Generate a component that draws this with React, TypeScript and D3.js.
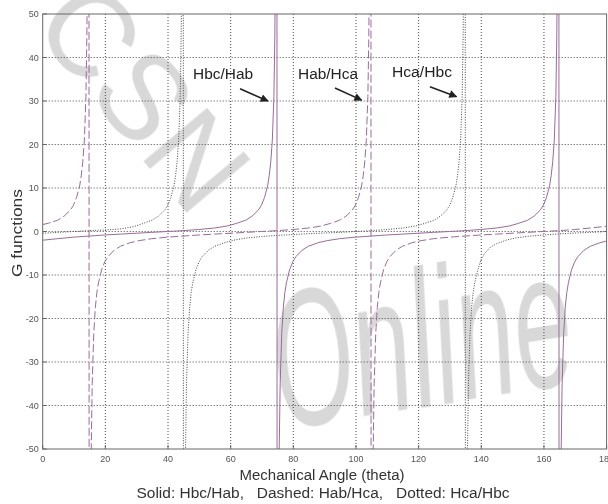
import React from "react";
import * as d3 from "d3";

// x ticks / y ticks (MATLAB style axes)
const xTicks = [0, 20, 40, 60, 80, 100, 120, 140, 160, 180];
const yTicks = [50, 40, 30, 20, 10, 0, -10, -20, -30, -40, -50];

// Solid: Hbc/Hab  [angle, G]
const hbcHab: [number, number][] = [
  [0, -2.0], [4.8, -1.65], [9.8, -1.3], [14.8, -1.05], [19.8, -0.8], [24.8, -0.6],
  [29.8, -0.4], [34.8, -0.2], [39.8, 0.0], [44.8, 0.2], [49.8, 0.45], [54.8, 0.8],
  [58.8, 1.25], [61.8, 1.85], [64.8, 2.6], [66.8, 3.5], [68.8, 4.9], [69.8, 6.0],
  [70.8, 7.8], [71.8, 10.5], [72.3, 12.8], [72.8, 16], [73.3, 21], [73.8, 31],
  [74.1, 45], [74.3, 64], [74.5, 108], [74.7, 330],
  [74.9, -350], [75.1, -115], [75.3, -70], [75.5, -50], [75.8, -35], [76.3, -23.5],
  [76.8, -17.5], [77.3, -14], [77.8, -11.8], [78.8, -8.8], [79.8, -7.0], [80.8, -5.8],
  [82.8, -4.3], [84.8, -3.4], [87.8, -2.6], [90.8, -2.1], [94.8, -1.65], [99.8, -1.3],
  [104.8, -1.05], [109.8, -0.8], [114.8, -0.6], [119.8, -0.4], [124.8, -0.2],
  [129.8, 0.0], [134.8, 0.2], [139.8, 0.45], [144.8, 0.8], [148.8, 1.25],
  [151.8, 1.85], [154.8, 2.6], [156.8, 3.5], [158.8, 4.9], [159.8, 6.0], [160.8, 7.8],
  [161.8, 10.5], [162.3, 12.8], [162.8, 16], [163.3, 21], [163.8, 31], [164.1, 45],
  [164.3, 64], [164.5, 108], [164.7, 330],
  [164.9, -350], [165.1, -115], [165.3, -70], [165.5, -50], [165.8, -35],
  [166.3, -23.5], [166.8, -17.5], [167.3, -14], [167.8, -11.8], [168.8, -8.8],
  [169.8, -7.0], [170.8, -5.8], [172.8, -4.3], [174.8, -3.4], [177.8, -2.6], [180, -2.2],
];

// Dashed: Hab/Hca
const habHca: [number, number][] = [
  [0, 1.6], [1.8, 1.9], [4.8, 2.6], [6.8, 3.5], [8.8, 4.9], [9.8, 6.0], [10.8, 7.8],
  [11.8, 10.5], [12.3, 12.8], [12.8, 16], [13.3, 21], [13.8, 31], [14.1, 45],
  [14.3, 64], [14.5, 108], [14.7, 330],
  [14.9, -350], [15.1, -115], [15.3, -70], [15.5, -50], [15.8, -35], [16.3, -23.5],
  [16.8, -17.5], [17.3, -14], [17.8, -11.8], [18.8, -8.8], [19.8, -7.0], [20.8, -5.8],
  [22.8, -4.3], [24.8, -3.4], [27.8, -2.6], [30.8, -2.1], [34.8, -1.65], [39.8, -1.3],
  [44.8, -1.05], [49.8, -0.8], [54.8, -0.6], [59.8, -0.4], [64.8, -0.2], [69.8, 0.0],
  [74.8, 0.2], [79.8, 0.45], [84.8, 0.8], [88.8, 1.25], [91.8, 1.85], [94.8, 2.6],
  [96.8, 3.5], [98.8, 4.9], [99.8, 6.0], [100.8, 7.8], [101.8, 10.5], [102.3, 12.8],
  [102.8, 16], [103.3, 21], [103.8, 31], [104.1, 45], [104.3, 64], [104.5, 108],
  [104.7, 330],
  [104.9, -350], [105.1, -115], [105.3, -70], [105.5, -50], [105.8, -35],
  [106.3, -23.5], [106.8, -17.5], [107.3, -14], [107.8, -11.8], [108.8, -8.8],
  [109.8, -7.0], [110.8, -5.8], [112.8, -4.3], [114.8, -3.4], [117.8, -2.6],
  [120.8, -2.1], [124.8, -1.65], [129.8, -1.3], [134.8, -1.05], [139.8, -0.8],
  [144.8, -0.6], [149.8, -0.4], [154.8, -0.2], [159.8, 0.0], [164.8, 0.2],
  [169.8, 0.45], [174.8, 0.8], [180, 1.2],
];

// Dotted: Hca/Hbc
const hcaHbc: [number, number][] = [
  [0, -0.4], [4.9, -0.2], [9.9, 0.0], [14.9, 0.2], [19.9, 0.35], [24.9, 0.6],
  [28.9, 1.1], [31.9, 1.8], [34.9, 2.6], [36.9, 3.5], [38.9, 4.9], [39.9, 6.0],
  [40.9, 7.8], [41.9, 10.5], [42.4, 12.8], [42.9, 16], [43.4, 21], [43.9, 31],
  [44.2, 45], [44.4, 64], [44.6, 108], [44.8, 330],
  [45.0, -350], [45.2, -115], [45.4, -70], [45.6, -50], [45.9, -35], [46.4, -23.5],
  [46.9, -17.5], [47.4, -14], [47.9, -11.8], [48.9, -8.8], [49.9, -7.0], [50.9, -5.8],
  [52.9, -4.3], [54.9, -3.4], [57.9, -2.6], [60.9, -2.0], [64.9, -1.5], [69.9, -1.15],
  [74.9, -0.9], [79.9, -0.7], [84.9, -0.5], [89.9, -0.35], [94.9, -0.2], [99.9, 0.0],
  [104.9, 0.2], [109.9, 0.45], [114.9, 0.8], [118.9, 1.25], [121.9, 1.85],
  [124.9, 2.6], [126.9, 3.5], [128.9, 4.9], [129.9, 6.0], [130.9, 7.8], [131.9, 10.5],
  [132.4, 12.8], [132.9, 16], [133.4, 21], [133.9, 31], [134.2, 45], [134.4, 64],
  [134.6, 108], [134.8, 330],
  [135.0, -350], [135.2, -115], [135.4, -70], [135.6, -50], [135.9, -35],
  [136.4, -23.5], [136.9, -17.5], [137.4, -14], [137.9, -11.8], [138.9, -8.8],
  [139.9, -6.5], [140.9, -5.2], [142.9, -3.6], [144.9, -2.8], [147.9, -2.0],
  [150.9, -1.5], [154.9, -1.1], [159.9, -0.8], [164.9, -0.55], [169.9, -0.35],
  [174.9, -0.2], [180, 0.0],
];

// in-plot labels with arrows: [text, textAngle, textG, fromAngle, fromG, toAngle, toG]
const callouts: [string, number, number, number, number, number, number][] = [
  ["Hbc/Hab", 48.0, 35.1, 63.0, 32.8, 71.9, 30.0],
  ["Hab/Hca", 81.5, 35.1, 93.3, 33.0, 101.8, 30.2],
  ["Hca/Hbc", 111.5, 35.5, 123.6, 33.3, 132.1, 31.0],
];

const W = 608;
const H = 504;
const font = "'Liberation Sans', Arial, Helvetica, sans-serif";
const purple = "#9a6b9a";
const wm = "#cfcfcf";

export default function App() {
  const x = d3.scaleLinear().domain([0, 180]).range([42.7, 606.6]);
  const y = d3.scaleLinear().domain([-50, 50]).range([449, 14]);
  const ln = d3
    .line<[number, number]>()
    .x((d) => x(d[0]))
    .y((d) => y(d[1]));

  const [x0, x1] = x.range();
  const [yb, yt] = y.range();

  return (
    <svg
      width={W}
      height={H}
      style={{ position: "absolute", left: 0, top: 0, background: "#fff" }}
      fontFamily={font}
    >
      <defs>
        <clipPath id="plot">
          <rect x={x0} y={yt} width={x1 - x0} height={yb - yt} />
        </clipPath>
        <marker id="arr" viewBox="0 0 10 10" refX="9" refY="5" markerWidth="6" markerHeight="5" orient="auto">
          <path d="M0,0 L10,5 L0,10 z" fill="#222" />
        </marker>
      </defs>

      {/* watermark */}
      <g fill={wm} opacity={0.8}>
        <text transform="translate(30,26) rotate(50)" fontSize={120}>
          CSN
        </text>
        <text transform="translate(282,430) rotate(-9) scale(0.78,1.45)" fontSize={134} fontStyle="italic">
          Online
        </text>
      </g>

      {/* grid */}
      <g stroke="#4a4a4a" strokeWidth={1} strokeDasharray="1,2">
        {xTicks.slice(1, -1).map((t) => (
          <line key={"gx" + t} x1={x(t)} x2={x(t)} y1={yt} y2={yb} />
        ))}
        {yTicks.slice(1, -1).map((t) => (
          <line key={"gy" + t} x1={x0} x2={x1} y1={y(t)} y2={y(t)} />
        ))}
      </g>

      {/* curves */}
      <g clipPath="url(#plot)" fill="none">
        <path d={ln(hcaHbc) || ""} stroke="#444" strokeWidth={1} strokeDasharray="1,1.5" />
        <path d={ln(habHca) || ""} stroke={purple} strokeWidth={1} strokeDasharray="8,3" />
        <path d={ln(hbcHab) || ""} stroke={purple} strokeWidth={1} />
      </g>

      {/* axes box */}
      <rect x={x0} y={yt} width={x1 - x0} height={yb - yt} fill="none" stroke="#666" strokeWidth={1} />
      <g stroke="#666">
        {xTicks.map((t) => (
          <line key={"tx" + t} x1={x(t)} x2={x(t)} y1={yb} y2={yb - 4} />
        ))}
        {yTicks.map((t) => (
          <line key={"ty" + t} x1={x0} x2={x0 + 4} y1={y(t)} y2={y(t)} />
        ))}
      </g>

      {/* tick labels */}
      <g fontSize={9} fill="#555">
        {xTicks.map((t) => (
          <text key={"lx" + t} x={x(t)} y={yb + 13} textAnchor="middle">
            {t}
          </text>
        ))}
        {yTicks.map((t) => (
          <text key={"ly" + t} x={x0 - 4} y={y(t) + 3} textAnchor="end">
            {t}
          </text>
        ))}
      </g>

      {/* callouts */}
      {callouts.map(([label, tx, ty, ax, ay, bx, by]) => (
        <g key={label}>
          <text x={x(tx)} y={y(ty)} fontSize={14} fill="#222" textLength={60} lengthAdjust="spacingAndGlyphs">
            {label}
          </text>
          <line x1={x(ax)} y1={y(ay)} x2={x(bx)} y2={y(by)} stroke="#222" strokeWidth={1.6} markerEnd="url(#arr)" />
        </g>
      ))}

      {/* axis titles */}
      <text x={322} y={480} fontSize={14} fill="#333" textAnchor="middle" textLength={165} lengthAdjust="spacingAndGlyphs">
        Mechanical Angle (theta)
      </text>
      <text
        x={323}
        y={498}
        fontSize={14}
        fill="#333"
        textAnchor="middle"
        textLength={373}
        lengthAdjust="spacingAndGlyphs"
        style={{ whiteSpace: "pre" }}
      >
        {"Solid: Hbc/Hab,   Dashed: Hab/Hca,   Dotted: Hca/Hbc"}
      </text>
      <text
        transform="translate(22,233) rotate(-90)"
        fontSize={15}
        fill="#333"
        textAnchor="middle"
        textLength={88}
        lengthAdjust="spacingAndGlyphs"
      >
        G functions
      </text>
    </svg>
  );
}
